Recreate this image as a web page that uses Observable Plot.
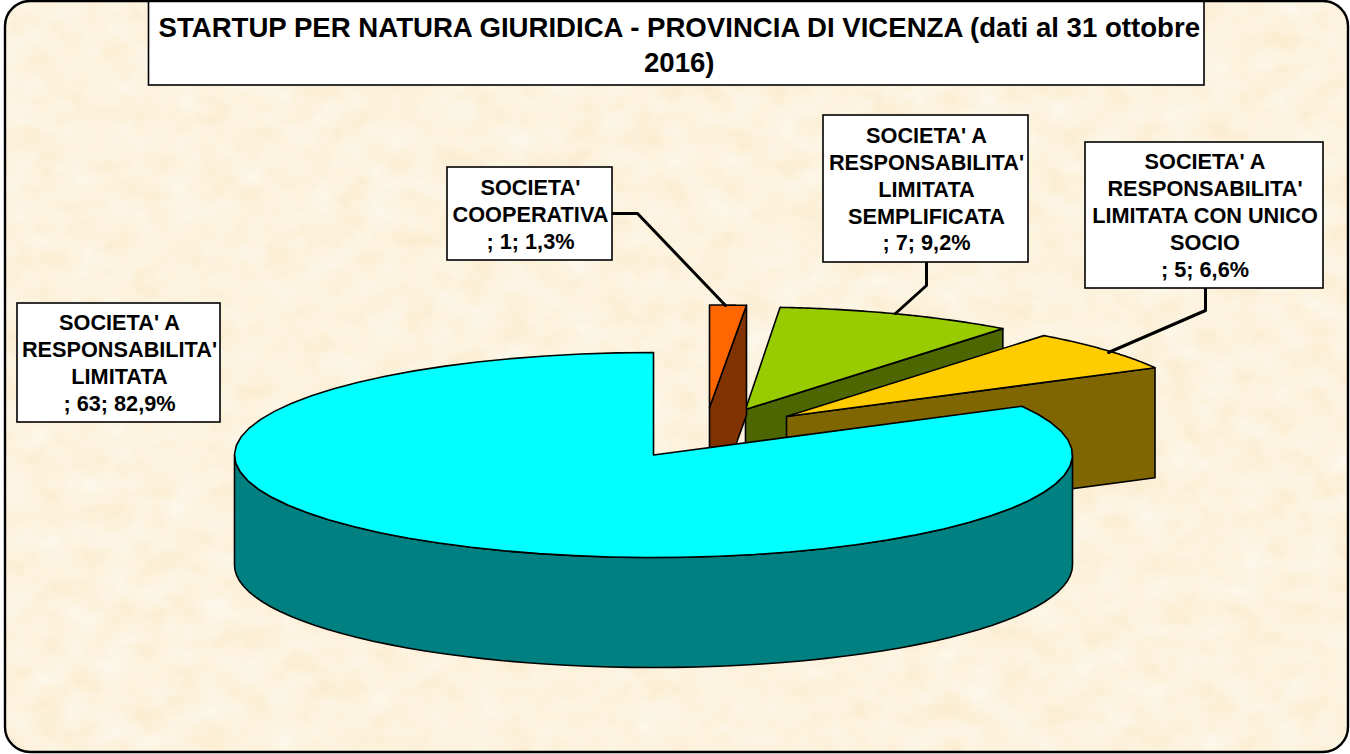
<!DOCTYPE html>
<html>
<head>
<meta charset="utf-8">
<script src="https://cdn.jsdelivr.net/npm/d3@7"></script>
<script src="https://cdn.jsdelivr.net/npm/@observablehq/plot@0.6"></script>
<style>
  html, body { margin: 0; padding: 0; background: #fff; }
  svg { display: block; }
</style>
</head>
<body>
<div id="chart"></div>
<script>
// ---- data ----
const titleText = "STARTUP PER NATURA GIURIDICA - PROVINCIA DI VICENZA (dati al 31 ottobre\n2016)";
const categories = [
  "SOCIETA' A\nRESPONSABILITA'\nLIMITATA",
  "SOCIETA'\nCOOPERATIVA",
  "SOCIETA' A\nRESPONSABILITA'\nLIMITATA\nSEMPLIFICATA",
  "SOCIETA' A\nRESPONSABILITA'\nLIMITATA CON UNICO\nSOCIO"
];
const values = [63, 1, 7, 5];
const percents = ["82,9", "1,3", "9,2", "6,6"];

// ---- styles ----
const topColors = ["#00ffff", "#ff6600", "#99cc00", "#ffcc00"];
const wallColors = ["#008080", "#803300", "#4d6600", "#806600"];

// ---- layout of the 3D pie, in page pixels ----
const radiiX = [419, 448, 419, 419];
const radiusY = 102.5, depth = 110;
const centers = [[653, 454.5], [709, 407], [745, 409], [786, 416]];
const labelBoxes = [[17, 303, 220, 422], [447, 167, 612, 260], [823, 115, 1028, 262], [1085, 142, 1323, 288]];
const leaders = [null,
  [[612, 213], [637, 213], [725, 305]],
  [[926, 262], [926, 285], [895, 313]],
  [[1205, 288], [1205, 310], [1108, 352]]];

// Slices run clockwise, the first one ending at 12 o'clock.
const total = d3.sum(values);
const startAngle = 360 - values[0] / total * 360;
let cursor = startAngle;
const slices = values.map((v, i) => {
  const a0 = cursor, a1 = cursor + v / total * 360;
  cursor = a1;
  return {i, a0, a1, c: centers[i], rx: radiiX[i]};
});
const rimPoint = (s, a, dy = 0) => {
  const t = a * Math.PI / 180;
  return {x: s.c[0] + s.rx * Math.sin(t), y: s.c[1] - radiusY * Math.cos(t) + dy};
};
const arc = (s, a0, a1, dy = 0) => d3.range(0, 61).map((k) => rimPoint(s, a0 + (a1 - a0) * k / 60, dy));
const apex = (s, dy = 0) => ({x: s.c[0], y: s.c[1] + dy});

const topFace = (s) => [apex(s), ...arc(s, s.a0, s.a1)];
// the radial cut at the clockwise end of a slice, facing the viewer
const cutWall = (s) => {
  const e = rimPoint(s, s.a1), b = rimPoint(s, s.a1, depth);
  return [apex(s), e, b, apex(s, depth)];
};
// the round outer wall of the large slice, front half only
const outerWall = (s) => {
  const a0 = Math.max(s.a0, 90), a1 = Math.min(s.a1, 270);
  return [...arc(s, a0, a1), ...arc(s, a0, a1, depth).reverse()];
};

const poly = (pts, fill) => Plot.line(pts, {
  x: "x", y: "y", curve: "linear-closed", fill, stroke: "#000", strokeWidth: 1.6, strokeLinejoin: "round"
});

const sliceMarks = [];
// back to front: green slice, yellow, orange, then the large one
for (const i of [2, 3, 1]) {
  const s = slices[i];
  sliceMarks.push(poly(cutWall(s), wallColors[i]), poly(topFace(s), topColors[i]));
}
sliceMarks.push(poly(outerWall(slices[0]), wallColors[0]), poly(topFace(slices[0]), topColors[0]));

const labelRows = categories.map((name, i) => ({
  text: `${name}\n; ${values[i]}; ${percents[i]}%`,
  x1: labelBoxes[i][0], y1: labelBoxes[i][1], x2: labelBoxes[i][2], y2: labelBoxes[i][3]
}));
const titleRow = [{text: titleText, x1: 148.5, y1: 1, x2: 1204, y2: 85}];
const frameRow = [{x1: 5, y1: 1, x2: 1348, y2: 752}];

const leaderMarks = leaders.filter(Boolean).map((pts) =>
  Plot.line(pts.map(([x, y]) => ({x, y})), {x: "x", y: "y", stroke: "#000", strokeWidth: 3})
);

const boxMark = (rows) => Plot.rect(rows, {
  x1: "x1", y1: "y1", x2: "x2", y2: "y2", fill: "#fff", stroke: "#000", strokeWidth: 1.6
});
const textMark = (rows, fontSize, lineHeight, dx, dy) => Plot.text(rows, {
  x: (d) => (d.x1 + d.x2) / 2, y: (d) => (d.y1 + d.y2) / 2, text: "text", dx, dy,
  fontFamily: "'Liberation Sans', Arial, sans-serif", fontWeight: "bold",
  fontSize, lineHeight, fill: "#000", textAnchor: "middle", lineAnchor: "middle"
});

const svg = Plot.plot({
  width: 1350, height: 754,
  marginTop: 0, marginRight: 0, marginBottom: 0, marginLeft: 0,
  x: {domain: [0, 1350], range: [0, 1350], axis: null},
  y: {domain: [0, 754], range: [0, 754], axis: null},
  marks: [
    Plot.rect(frameRow, {x1: "x1", y1: "y1", x2: "x2", y2: "y2", fill: "#fdf1da", rx: 25}),
    ...sliceMarks,
    ...leaderMarks,
    boxMark(labelRows),
    textMark(labelRows, 21.7, 1.24, 0.5, -1),
    boxMark(titleRow),
    textMark(titleRow, 27.6, 1.25, 2.5, 0),
    Plot.rect(frameRow, {x1: "x1", y1: "y1", x2: "x2", y2: "y2", fill: "none", stroke: "#000", strokeWidth: 2.4, rx: 25})
  ]
});

// mottled paper texture for the backdrop
const defs = d3.select(svg).insert("defs", ":first-child");
const filter = defs.append("filter").attr("id", "paper-texture")
  .attr("x", 0).attr("y", 0).attr("width", 1).attr("height", 1)
  .attr("color-interpolation-filters", "sRGB");
filter.append("feTurbulence").attr("type", "fractalNoise").attr("baseFrequency", "0.03 0.04")
  .attr("numOctaves", 3).attr("seed", 7).attr("result", "noise");
filter.append("feColorMatrix").attr("in", "noise").attr("type", "matrix")
  .attr("values", "0 0 0 0 0.99  0.06 0 0 0 0.92  0.14 0 0 0 0.80  0 0 0 0 1").attr("result", "tint");
filter.append("feComposite").attr("in", "tint").attr("in2", "SourceAlpha").attr("operator", "in");
d3.select(svg).select("rect").attr("filter", "url(#paper-texture)");

document.getElementById("chart").append(svg);
</script>
</body>
</html>
